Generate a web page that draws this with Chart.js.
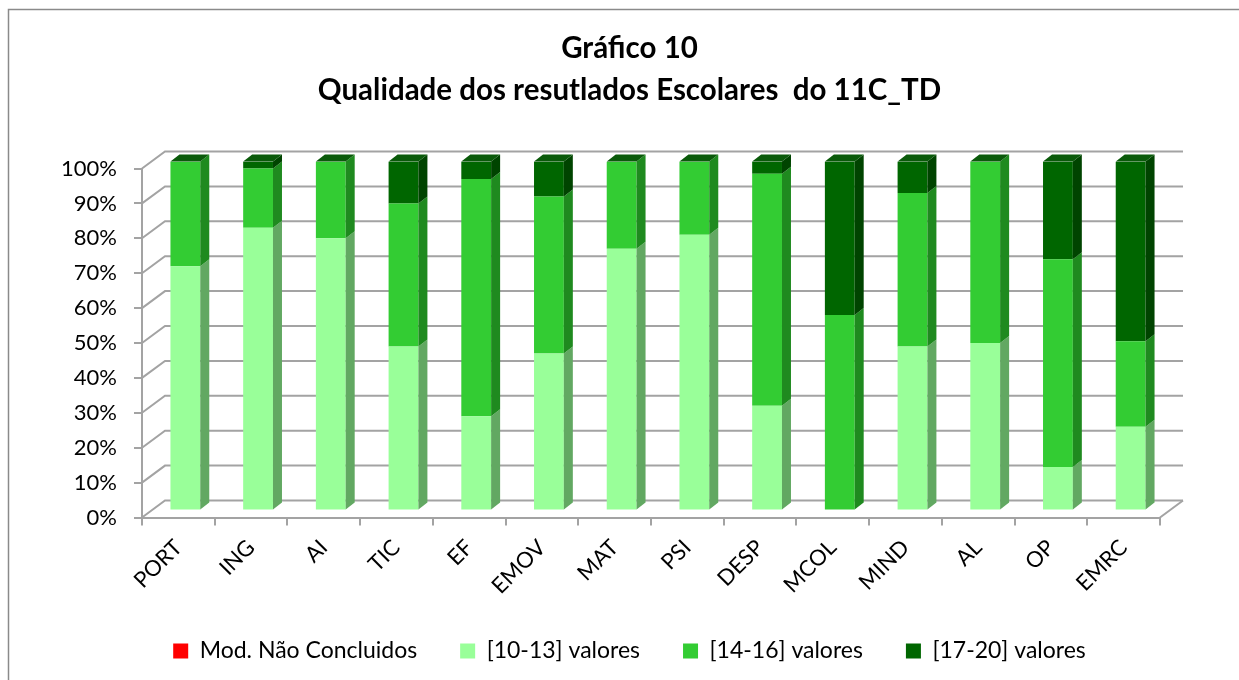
<!DOCTYPE html>
<html>
<head>
<meta charset="utf-8">
<script src="https://cdn.jsdelivr.net/npm/chart.js@4/dist/chart.umd.min.js"></script>
<style>
  html, body { margin: 0; padding: 0; background: #fff; }
  #wrap { position: relative; width: 1239px; height: 680px; }
</style>
</head>
<body>
<div id="wrap"><canvas id="grafico"></canvas></div>
<script>
// disciplinas
const disciplinas = ['PORT', 'ING', 'AI', 'TIC', 'EF', 'EMOV', 'MAT', 'PSI', 'DESP', 'MCOL', 'MIND', 'AL', 'OP', 'EMRC'];

// percentagens por escalão
const naoConcluidos = [0, 0, 0, 0, 0, 0, 0, 0, 0, 0, 0, 0, 0, 0];
const valores10a13 = [70, 81, 78, 47, 27, 45, 75, 79, 30, 0, 47, 48, 12.5, 24];
const valores14a16 = [30, 17, 22, 41, 68, 45, 25, 21, 66.5, 56, 44, 52, 59.5, 24.5];
const valores17a20 = [0, 2, 0, 12, 5, 10, 0, 0, 3.5, 44, 9, 0, 28, 51.5];

const ticksY = [0, 10, 20, 30, 40, 50, 60, 70, 80, 90, 100];

const fonte = 'Lato, "Open Sans", sans-serif';
const corGrelha = '#a3a3a3';

// profundidade do "3D"
const fundo = { dx: 23, dy: -17 };
const barra = { dx: 7, dy: -7, lado: 9, topo: -7 };
const coresLado = ['#aa0000', '#62a862', '#1f8a1f', '#004400'];
const corTopo = '#0a5a0a';

// moldura + grelha 3D por trás das barras
const grelha3d = {
  id: 'grelha3d',
  beforeDraw(chart) {
    const ctx = chart.ctx;
    ctx.save();
    ctx.strokeStyle = '#8a8a8a';
    ctx.lineWidth = 1.5;
    ctx.strokeRect(8.5, 9.5, 1400, 800);
    ctx.restore();
  },
  beforeDatasetsDraw(chart) {
    const { ctx, chartArea, scales } = chart;
    const l = chartArea.left, r = chartArea.right;
    ctx.save();
    ctx.strokeStyle = corGrelha;
    ctx.lineWidth = 2;
    ticksY.forEach(v => {
      const y = scales.y.getPixelForValue(v);
      ctx.beginPath();
      ctx.moveTo(l, y);
      ctx.lineTo(l + fundo.dx, y + fundo.dy);
      ctx.lineTo(r + fundo.dx, y + fundo.dy);
      ctx.stroke();
    });
    const yb = scales.y.getPixelForValue(0);
    ctx.beginPath();
    ctx.moveTo(r, yb);
    ctx.lineTo(r + fundo.dx, yb + fundo.dy);
    ctx.stroke();
    ctx.restore();
    ctx.save();
    ctx.translate(barra.dx, barra.dy);
  },
  afterDatasetsDraw(chart) {
    const ctx = chart.ctx;
    const n = chart.data.datasets.length;
    for (let d = 0; d < n; d++) {
      const meta = chart.getDatasetMeta(d);
      meta.data.forEach((bar, i) => {
        const p = bar.getProps(['x', 'y', 'base', 'width'], true);
        const xr = p.x + p.width / 2;
        const xl = p.x - p.width / 2;
        if (Math.abs(p.base - p.y) > 0.5) {
          ctx.fillStyle = coresLado[d];
          ctx.beginPath();
          ctx.moveTo(xr, p.y);
          ctx.lineTo(xr + barra.lado, p.y + barra.topo);
          ctx.lineTo(xr + barra.lado, p.base + barra.topo);
          ctx.lineTo(xr, p.base);
          ctx.closePath();
          ctx.fill();
        }
        if (d === n - 1) {
          ctx.fillStyle = corTopo;
          ctx.beginPath();
          ctx.moveTo(xl, p.y);
          ctx.lineTo(xl + barra.lado, p.y + barra.topo);
          ctx.lineTo(xr + barra.lado, p.y + barra.topo);
          ctx.lineTo(xr, p.y);
          ctx.closePath();
          ctx.fill();
        }
      });
    }
    ctx.restore();
  }
};

new Chart(document.getElementById('grafico'), {
  type: 'bar',
  data: {
    labels: disciplinas,
    datasets: [
      { label: 'Mod. Não Concluidos', data: naoConcluidos, backgroundColor: '#ff0000' },
      { label: '[10-13] valores', data: valores10a13, backgroundColor: '#99ff99' },
      { label: '[14-16] valores', data: valores14a16, backgroundColor: '#33cc33' },
      { label: '[17-20] valores', data: valores17a20, backgroundColor: '#006600' }
    ]
  },
  options: {
    responsive: true,
    maintainAspectRatio: false,
    animation: false,
    datasets: { bar: { barPercentage: 0.41, categoryPercentage: 1, borderWidth: 0 } },
    layout: { padding: { top: 10, left: 20, right: 0, bottom: 7.5 } },
    plugins: {
      title: {
        display: true,
        text: ['Gráfico 10', 'Qualidade dos resutlados Escolares  do 11C_TD'],
        color: '#000',
        font: { family: fonte, size: 29.5, weight: 'bold', lineHeight: 1.424 },
        padding: { top: 17, bottom: 57.5 }
      },
      legend: {
        position: 'bottom',
        labels: {
          color: '#000',
          font: { family: fonte, size: 23 },
          boxWidth: 15,
          boxHeight: 15,
          padding: 43
        }
      },
      tooltip: { enabled: false }
    },
    scales: {
      x: {
        stacked: true,
        grid: { drawOnChartArea: false, drawTicks: true, tickLength: 8, color: corGrelha, lineWidth: 2, offset: true },
        border: { display: true, color: corGrelha, width: 2 },
        ticks: { color: '#000', font: { family: fonte, size: 22 }, maxRotation: 45, minRotation: 45, padding: 9 },
        afterFit(scale) { scale.height = 79; }
      },
      y: {
        stacked: true,
        min: 0,
        max: 100,
        grid: { drawOnChartArea: false, drawTicks: true, tickLength: 8, color: corGrelha, lineWidth: 2 },
        border: { display: true, color: corGrelha, width: 2 },
        ticks: {
          stepSize: 10,
          color: '#000',
          padding: 17,
          font: { family: fonte, size: 22 },
          callback: v => v + '%'
        },
        afterFit(scale) { scale.width = 122; }
      },
      // espaço vazio à direita (profundidade 3D)
      margem: {
        position: 'right',
        grid: { display: false },
        border: { display: false },
        ticks: { display: false },
        afterFit(scale) { scale.width = 79; }
      }
    }
  },
  plugins: [grelha3d]
});
</script>
</body>
</html>
